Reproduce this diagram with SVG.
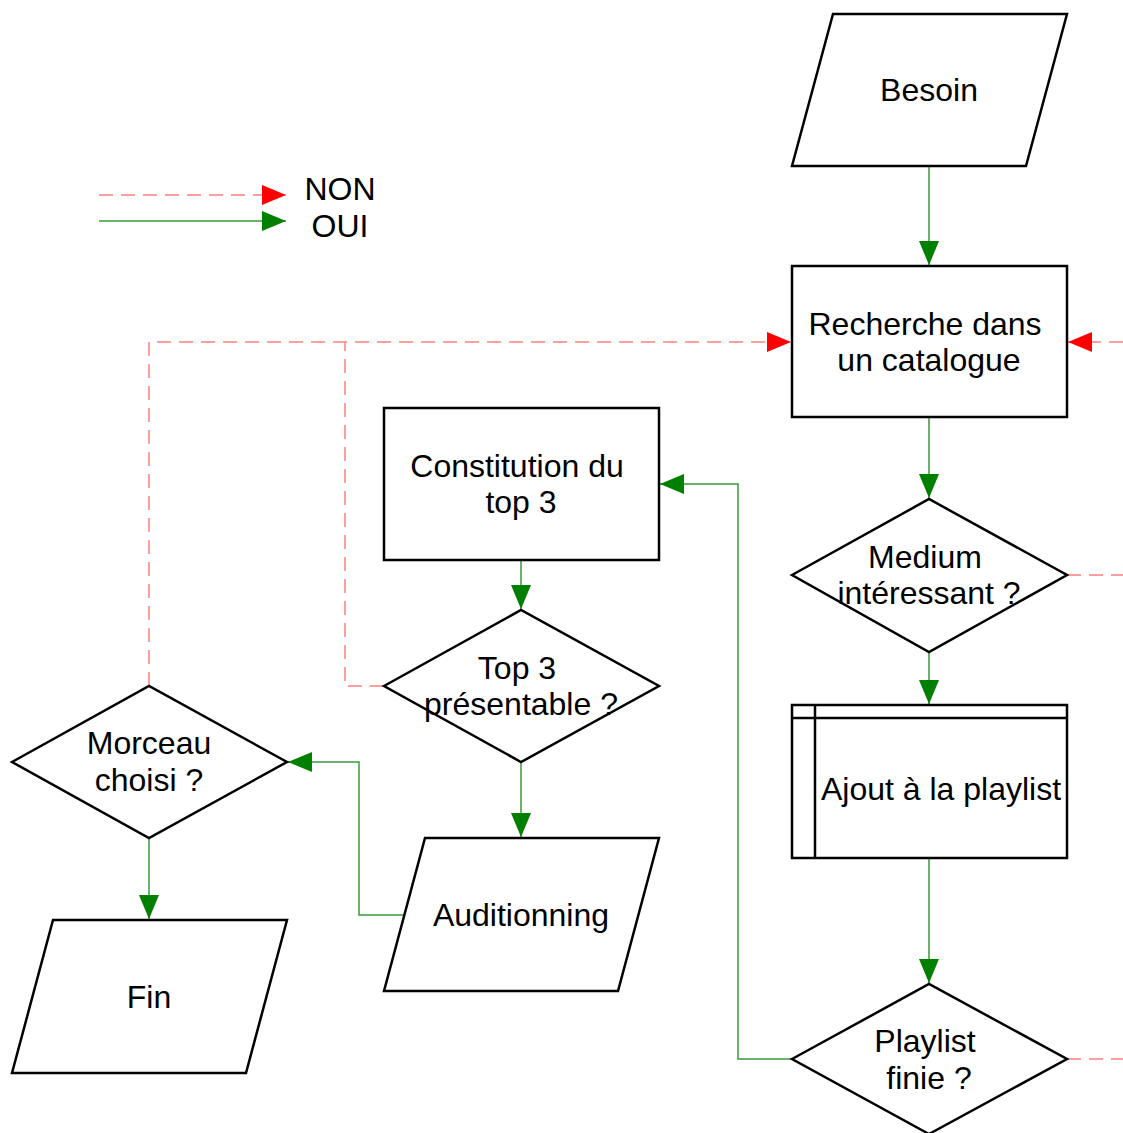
<svg xmlns="http://www.w3.org/2000/svg" width="1123" height="1133" viewBox="0 0 1123 1133">
<style>
.s{fill:#fff;stroke:#000;stroke-width:2.5}
.t{font-family:"Liberation Sans",Arial,sans-serif;font-size:32px;fill:#000;text-anchor:middle}
.no{fill:none;stroke:#ff7f7f;stroke-width:1.5;stroke-dasharray:14,8}
.yes{fill:none;stroke:#3a9a3a;stroke-width:1.5}
</style>
<defs>
<marker id="ar" markerUnits="userSpaceOnUse" markerWidth="26" markerHeight="22" refX="24" refY="10" orient="auto"><path d="M0,0 L24,10 L0,20 Z" fill="#ff0000"/></marker>
<marker id="ag" markerUnits="userSpaceOnUse" markerWidth="26" markerHeight="22" refX="24" refY="10" orient="auto"><path d="M0,0 L24,10 L0,20 Z" fill="#008000"/></marker>
</defs>
<rect width="1123" height="1133" fill="#fff"/>
<g id="connectors">
<path class="no" d="M99,195 L286,195" marker-end="url(#ar)"/>
<path class="yes" d="M99,221 L286,221" marker-end="url(#ag)"/>
<path class="yes" d="M929,166 L929,265" marker-end="url(#ag)"/>
<path class="no" d="M1123,342 L1068,342" marker-end="url(#ar)"/>
<path class="no" d="M149,686 L149,342 L791,342" marker-end="url(#ar)"/>
<path class="no" d="M384,686 L345,686 L345,342"/>
<path class="yes" d="M929,417 L929,498" marker-end="url(#ag)"/>
<path class="no" d="M1067,575 L1123,575"/>
<path class="yes" d="M929,652 L929,704" marker-end="url(#ag)"/>
<path class="yes" d="M929,858 L929,983" marker-end="url(#ag)"/>
<path class="no" d="M1067,1059 L1123,1059"/>
<path class="yes" d="M792,1059 L738,1059 L738,484 L660,484" marker-end="url(#ag)"/>
<path class="yes" d="M521,560 L521,609" marker-end="url(#ag)"/>
<path class="yes" d="M521,762 L521,837" marker-end="url(#ag)"/>
<path class="yes" d="M404,915 L359,915 L359,762 L288,762" marker-end="url(#ag)"/>
<path class="yes" d="M149,838 L149,919" marker-end="url(#ag)"/>
</g>
<g id="legend">
<text class="t" x="340" y="200">NON</text>
<text class="t" x="340" y="237">OUI</text>
</g>
<g id="besoin">
<polygon class="s" points="833,14 1067,14 1026,166 792,166"/>
<text class="t" x="929" y="101">Besoin</text>
</g>
<g id="recherche">
<rect class="s" x="792" y="266" width="275" height="151"/>
<text class="t" x="925" y="335">Recherche dans</text>
<text class="t" x="929" y="371">un catalogue</text>
</g>
<g id="medium">
<polygon class="s" points="792,575 929,499 1067,575 929,652"/>
<text class="t" x="925" y="568">Medium</text>
<text class="t" x="929" y="604">intéressant ?</text>
</g>
<g id="ajout">
<rect class="s" x="792" y="705" width="275" height="153"/>
<line class="s" x1="792" y1="718" x2="1067" y2="718"/>
<line class="s" x1="815" y1="705" x2="815" y2="858"/>
<text class="t" x="941" y="800">Ajout à la playlist</text>
</g>
<g id="playlist">
<polygon class="s" points="792,1059 929,984 1067,1059 929,1134"/>
<text class="t" x="925" y="1052">Playlist</text>
<text class="t" x="929" y="1089">finie ?</text>
</g>
<g id="constitution">
<rect class="s" x="384" y="408" width="275" height="152"/>
<text class="t" x="517" y="477">Constitution du</text>
<text class="t" x="521" y="513">top 3</text>
</g>
<g id="top3">
<polygon class="s" points="384,686 521,610 659,686 521,762"/>
<text class="t" x="517" y="679">Top 3</text>
<text class="t" x="521" y="715">présentable ?</text>
</g>
<g id="auditionning">
<polygon class="s" points="425,838 659,838 618,991 384,991"/>
<text class="t" x="521" y="926">Auditionning</text>
</g>
<g id="morceau">
<polygon class="s" points="12,762 149,686 287,762 149,838"/>
<text class="t" x="149" y="754">Morceau</text>
<text class="t" x="149" y="791">choisi ?</text>
</g>
<g id="fin">
<polygon class="s" points="53,920 287,920 246,1073 12,1073"/>
<text class="t" x="149" y="1008">Fin</text>
</g>
</svg>
